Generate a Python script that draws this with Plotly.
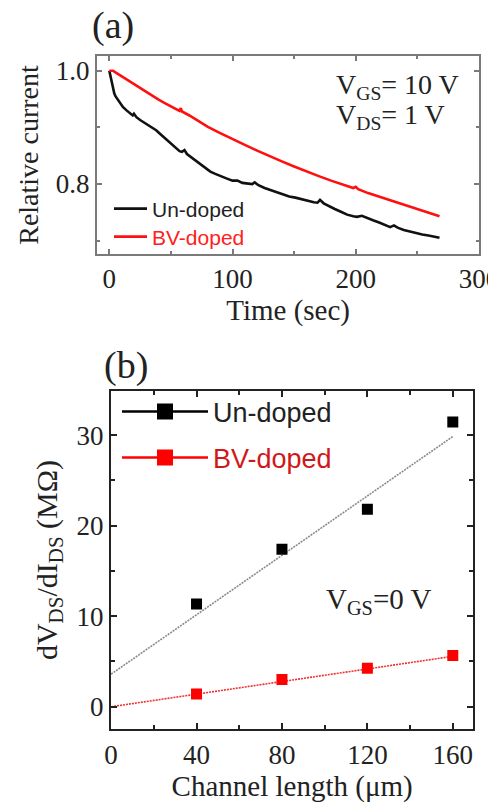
import plotly.graph_objects as go

# ---- (a) relative drain current vs. time ----
time_undoped = [0, 1, 2, 3, 4, 5, 7, 9, 11, 14, 17, 19, 20, 22, 25, 28, 31, 34, 38, 42,
                46, 50, 54, 57, 59, 61, 63, 66, 70, 74, 78, 82, 86, 90, 95, 100, 104, 108,
                112, 116, 118, 121, 126, 131, 136, 141, 146, 151, 156, 161, 166, 169, 171,
                174, 178, 183, 188, 193, 198, 201, 205, 209, 214, 219, 224, 228, 231, 234,
                239, 244, 249, 254, 259, 263, 266, 268]
rel_undoped = [1.000, 0.990, 0.978, 0.967, 0.960, 0.955, 0.948, 0.941, 0.936, 0.930, 0.925,
               0.921, 0.924, 0.918, 0.913, 0.909, 0.905, 0.901, 0.895, 0.887, 0.879, 0.872,
               0.864, 0.858, 0.857, 0.860, 0.853, 0.848, 0.841, 0.834, 0.828, 0.822, 0.818,
               0.814, 0.810, 0.806, 0.806, 0.802, 0.801, 0.800, 0.803, 0.798, 0.793, 0.789,
               0.786, 0.782, 0.778, 0.776, 0.773, 0.770, 0.768, 0.767, 0.772, 0.766, 0.761,
               0.756, 0.751, 0.746, 0.743, 0.742, 0.744, 0.741, 0.736, 0.732, 0.728, 0.724,
               0.727, 0.723, 0.719, 0.716, 0.713, 0.711, 0.709, 0.707, 0.705, 0.705]

time_bv = [0, 3, 5, 10, 15, 20, 25, 30, 35, 40, 45, 50, 55, 57, 58, 59, 65, 70, 75, 80,
           90, 100, 110, 120, 130, 140, 150, 160, 170, 180, 190, 198, 200, 202, 210, 220,
           230, 240, 250, 260, 268]
rel_bv = [1.000, 1.000, 0.997, 0.990, 0.983, 0.976, 0.969, 0.962, 0.956, 0.949, 0.943,
          0.937, 0.932, 0.929, 0.934, 0.928, 0.921, 0.914, 0.907, 0.901, 0.890, 0.879,
          0.869, 0.859, 0.849, 0.840, 0.831, 0.822, 0.814, 0.806, 0.799, 0.793, 0.795,
          0.791, 0.784, 0.777, 0.770, 0.763, 0.756, 0.749, 0.743]

# ---- (b) channel resistance vs. channel length ----
channel_length = [40, 80, 120, 160]
res_undoped = [11.35, 17.4, 21.8, 31.45]
res_bv = [1.4, 3.0, 4.25, 5.65]
fit_undoped = [3.6, 0.164]   # intercept (MOhm), slope (MOhm/um)
fit_bv = [0.0, 0.0348]
fit_span = [0, 160]

SERIF = "Liberation Serif"
SANS = "Liberation Sans"
W, H = 488, 806


def px_x(p):
    return p / W


def px_y(p):
    return 1 - p / H


fig = go.Figure()

fig.add_trace(go.Scatter(x=time_undoped, y=rel_undoped, mode="lines",
                         line=dict(color="#111111", width=2.6),
                         name="<span style='color:#222222'>Un-doped</span>",
                         legend="legend", xaxis="x", yaxis="y"))
fig.add_trace(go.Scatter(x=time_bv, y=rel_bv, mode="lines",
                         line=dict(color="#ff1010", width=2.6),
                         name="<span style='color:#ff2020'>BV-doped</span>",
                         legend="legend2", xaxis="x", yaxis="y"))

# fitted lines
fit_x = fit_span
fig.add_trace(go.Scatter(x=fit_x, y=[fit_undoped[0] + fit_undoped[1] * v for v in fit_x],
                         mode="lines", line=dict(color="#8a8a8a", width=1.6, dash="2px,1px"),
                         showlegend=False, xaxis="x2", yaxis="y2"))
fig.add_trace(go.Scatter(x=fit_x, y=[fit_bv[0] + fit_bv[1] * v for v in fit_x],
                         mode="lines", line=dict(color="#ee3030", width=1.6, dash="2px,1px"),
                         showlegend=False, xaxis="x2", yaxis="y2"))

# measured points
fig.add_trace(go.Scatter(x=channel_length, y=res_undoped, mode="markers",
                         marker=dict(symbol="square", size=11, color="#000000"),
                         showlegend=False, xaxis="x2", yaxis="y2"))
fig.add_trace(go.Scatter(x=channel_length, y=res_bv, mode="markers",
                         marker=dict(symbol="square", size=11, color="#ff0000"),
                         showlegend=False, xaxis="x2", yaxis="y2"))

# legend keys for (b)
fig.add_trace(go.Scatter(x=[None], y=[None], mode="lines+markers",
                         line=dict(color="#000000", width=2.5),
                         marker=dict(symbol="square", size=16, color="#000000"),
                         name="<span style='color:#222222'>Un-doped</span>",
                         legend="legend3", xaxis="x2", yaxis="y2"))
fig.add_trace(go.Scatter(x=[None], y=[None], mode="lines+markers",
                         line=dict(color="#ff0000", width=2.5),
                         marker=dict(symbol="square", size=16, color="#ff0000"),
                         name="<span style='color:#d01818'>BV-doped</span>",
                         legend="legend4", xaxis="x2", yaxis="y2"))

tickfont = dict(family=SERIF, size=27, color="#222222")
titlefont = dict(family=SERIF, size=29, color="#222222")

axis_a = dict(showline=True, linewidth=2, linecolor="#7a7a7a", mirror="ticks",
              ticks="inside", ticklen=5, tickwidth=1.5, tickcolor="#7a7a7a",
              showgrid=False, zeroline=False, tickfont=tickfont, automargin=False)
axis_b = dict(showline=True, linewidth=2, linecolor="#222222", mirror="ticks",
              ticks="inside", ticklen=6, tickwidth=1.5, tickcolor="#222222",
              showgrid=False, zeroline=False, tickfont=tickfont, automargin=False)

legend_common = dict(bgcolor="rgba(0,0,0,0)", borderwidth=0, xanchor="left",
                     yanchor="middle", xref="paper", yref="paper")

fig.update_layout(
    width=W, height=H, autosize=False,
    margin=dict(l=0, r=0, t=0, b=0),
    paper_bgcolor="white", plot_bgcolor="white",
    xaxis=dict(axis_a, domain=[px_x(97), px_x(479.3)], range=[-10, 300.3],
               tickvals=[0, 100, 200, 300], ticklabeloverflow="allow",
               minor=dict(dtick=50, tick0=0, ticks="inside", ticklen=3, tickcolor="#7a7a7a"),
               anchor="y",
               title=dict(text="Time (sec)", font=titlefont, standoff=4)),
    yaxis=dict(axis_a, domain=[px_y(254), px_y(56)], range=[0.6765, 1.026],
               tickvals=[0.8, 1.0], ticktext=["0.8", "1.0"],
               minor=dict(dtick=0.1, tick0=0.7, ticks="inside", ticklen=3, tickcolor="#7a7a7a"),
               anchor="x",
               title=dict(text="Relative current", font=dict(family=SERIF, size=28,
                                                             color="#222222"),
                          standoff=9)),
    xaxis2=dict(axis_b, domain=[px_x(111), px_x(473.3)], range=[-0.05, 169.6],
                tickvals=[0, 40, 80, 120, 160], ticklabeloverflow="allow",
                minor=dict(dtick=20, tick0=0, ticks="inside", ticklen=4, tickcolor="#222222"),
                anchor="y2",
                title=dict(text="Channel length (\u03bcm)", font=titlefont, standoff=3)),
    yaxis2=dict(axis_b, domain=[px_y(729.3), px_y(390.7)], range=[-2.49, 34.9],
                tickvals=[0, 10, 20, 30],
                minor=dict(dtick=5, tick0=0, ticks="inside", ticklen=4, tickcolor="#222222"),
                anchor="x2",
                title=dict(text="dV<sub>DS</sub>/dI<sub>DS</sub> (M\u03a9)",
                           font=dict(family=SERIF, size=30, color="#222222"),
                           standoff=10)),
    legend=dict(legend_common, x=px_x(109), y=px_y(209), itemwidth=33,
                font=dict(family=SANS, size=21)),
    legend2=dict(legend_common, x=px_x(109), y=px_y(237), itemwidth=33,
                 font=dict(family=SANS, size=21)),
    legend3=dict(legend_common, x=px_x(117), y=px_y(412), itemwidth=86,
                 font=dict(family=SANS, size=27)),
    legend4=dict(legend_common, x=px_x(117), y=px_y(458), itemwidth=86,
                 font=dict(family=SANS, size=27)),
)

ann_font = dict(family=SERIF, size=28, color="#222222")


def label(text, x, y, font, xanchor="center"):
    fig.add_annotation(text=text, x=px_x(x), y=px_y(y), xref="paper", yref="paper",
                       xanchor=xanchor, yanchor="middle", showarrow=False, font=font)


label("(a)", 113, 25, dict(family=SERIF, size=38, color="#222222"))
label("(b)", 126, 365, dict(family=SERIF, size=38, color="#222222"))
label("V<sub>GS</sub>= 10 V", 334, 86, ann_font, "left")
label("V<sub>DS</sub>= 1 V", 334, 116, ann_font, "left")
label("V<sub>GS</sub>=0 V", 324, 601, dict(family=SERIF, size=29, color="#222222"), "left")

fig.write_html("out.html", config={"responsive": False})
